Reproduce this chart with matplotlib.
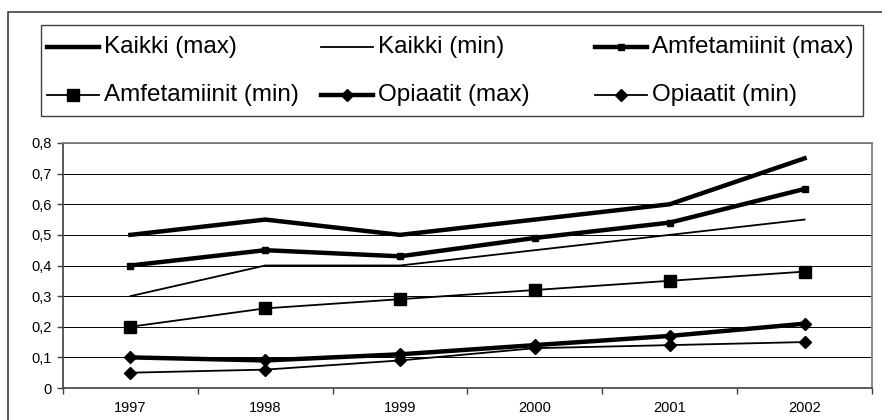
import matplotlib
matplotlib.use("Agg")
import matplotlib.pyplot as plt
from matplotlib.lines import Line2D
from matplotlib.patches import Rectangle

plt.rcParams['font.family'] = ['Liberation Sans', 'DejaVu Sans']

years = ["1997", "1998", "1999", "2000", "2001", "2002"]
kaikki_max = [0.50, 0.55, 0.50, 0.55, 0.60, 0.75]
kaikki_min = [0.30, 0.40, 0.40, 0.45, 0.50, 0.55]
amf_max = [0.40, 0.45, 0.43, 0.49, 0.54, 0.65]
amf_min = [0.20, 0.26, 0.29, 0.32, 0.35, 0.38]
opi_max = [0.10, 0.09, 0.11, 0.14, 0.17, 0.21]
opi_min = [0.05, 0.06, 0.09, 0.13, 0.14, 0.15]
labels = ["Kaikki (max)", "Kaikki (min)", "Amfetamiinit (max)",
          "Amfetamiinit (min)", "Opiaatit (max)", "Opiaatit (min)"]
yticks = [0, 0.1, 0.2, 0.3, 0.4, 0.5, 0.6, 0.7, 0.8]

THICK = 3.2
THIN = 1.3
styles = [
    dict(lw=THICK, marker=None),
    dict(lw=THIN, marker=None),
    dict(lw=THICK, marker='s', ms=4.5),
    dict(lw=THIN, marker='s', ms=8.0),
    dict(lw=THICK, marker='D', ms=6.2),
    dict(lw=THIN, marker='D', ms=6.2),
]
series = [kaikki_max, kaikki_min, amf_max, amf_min, opi_max, opi_min]

W, H = 882, 420
fig = plt.figure(figsize=(W / 100, H / 100), dpi=100)


def fx(px):
    return px / W


def fy(py):
    return (H - py) / H


# outer chart frame
fig.patches.append(Rectangle((fx(8), -0.2), 1.5, fy(12) + 0.2, transform=fig.transFigure,
                             fill=False, ec='#404040', lw=1.2))

ax = fig.add_axes([fx(63), fy(388), fx(872) - fx(63), fy(143) - fy(388)])
x = list(range(len(years)))
for vals, st in zip(series, styles):
    ax.plot(x, vals, color='black', lw=st['lw'], marker=st['marker'],
            ms=st.get('ms', 0), mfc='black', mec='black', solid_joinstyle='miter',
            zorder=3)

ax.set_xlim(-0.5, len(years) - 0.5)
ax.set_ylim(0, 0.8)
ax.set_yticks(yticks)
ax.set_yticklabels([("%.1f" % v).replace('.', ',') if v else "0" for v in yticks], fontsize=10.5)
ax.set_xticks(x)
ax.set_xticklabels(years, fontsize=10.5)
ax.set_xticks([i - 0.5 for i in range(len(years) + 1)], minor=True)
ax.tick_params(axis='x', which='major', length=0, pad=9)
ax.tick_params(axis='x', which='minor', length=4, width=1, color='#404040', direction='out')
ax.tick_params(axis='y', length=4, width=1, color='#404040', pad=4)
ax.yaxis.grid(True, color='black', lw=0.7)
ax.set_axisbelow(True)
for s in ['top', 'right']:
    ax.spines[s].set_color('#808080')
    ax.spines[s].set_linewidth(1.3)
for s in ['left', 'bottom']:
    ax.spines[s].set_color('#404040')
    ax.spines[s].set_linewidth(1.2)

# legend box, laid out like the spreadsheet legend
fig.patches.append(Rectangle((fx(41), fy(116)), fx(863) - fx(41), fy(25) - fy(116),
                             transform=fig.transFigure, fill=False, ec='#404040', lw=1.0))
col_x = [47, 321, 595]
row_y = [47, 95]
for i, (lab, st) in enumerate(zip(labels, styles)):
    x0 = col_x[i % 3]
    y0 = row_y[i // 3]
    fig.lines.append(Line2D([fx(x0), fx(x0 + 26), fx(x0 + 52)], [fy(y0)] * 3,
                            transform=fig.transFigure, color='black', lw=st['lw'],
                            marker=st['marker'], ms=st.get('ms', 0), markevery=[1]))
    fig.text(fx(x0 + 57), fy(y0), lab, fontsize=17.5, va='center', ha='left')

fig.savefig("out.png", dpi=100)
